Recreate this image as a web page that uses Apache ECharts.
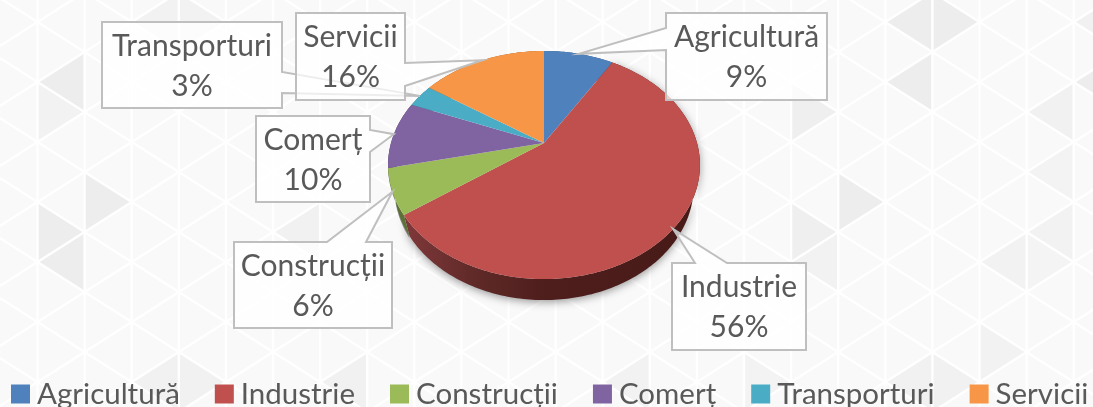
<!DOCTYPE html>
<html><head><meta charset="utf-8">
<style>html,body{margin:0;padding:0;background:#fff;overflow:hidden}#c{width:1093px;height:407px}</style>
<script src="https://cdn.jsdelivr.net/npm/echarts@6/dist/echarts.min.js"></script>
</head><body><div id="c"></div>
<script>
// ---------- data ----------
const categories = ['Agricultură','Industrie','Construcții','Comerț','Transporturi','Servicii'];
const shares = [8.7, 56.4, 6.4, 9.6, 3.3, 15.6];

// ---------- styles & layout ----------
const colors = ['#4f81bd','#c0504d','#9bbb59','#8064a2','#4bacc6','#f79646'];
const wallColors = ['#2f4d71','#4d1c1a','#5d7035','#4c3c61','#2d6776','#94592a'];
const FONT = 'Lato, "Open Sans", sans-serif';
const TEXT = '#595959';
// projected pie: apex, radii, perspective factor, wall depth
const pie = {cx:544, cy:143, A:153, B:109.8, p:0.193, depth:21, wallScale:0.96};
// callout boxes [x,y,w,h] and the edge segment the pointer leaves from
const callouts = [
  {box:[666,13,161,87],  side:'left',  a:28,  b:50},
  {box:[672,263,134,87], side:'top',   a:695, b:727},
  {box:[234,242,158,86], side:'top',   a:327, b:366},
  {box:[256,116,114,86], side:'right', a:130, b:152},
  {box:[102,22,180,86],  side:'right', a:72,  b:93},
  {box:[296,13,109,87],  side:'right', a:63,  b:86}
];
// background lattice
const lattice = {x0:37.5, dx:47.1, y0:22, dy:60};
// shaded triangles: [column of the vertical edge, top y of that edge, direction, grey]
const shaded = [
 [19,-8,-1,'#ededed'],[19,-8,1,'#ededed'],[19,52,-1,'#ededed'],[22,82,-1,'#f1f1f1'],[23,52,-1,'#ededed'],[23,-8,-1,'#f1f1f1'],
 [17,172,1,'#ededed'],[16,82,1,'#efefef'],[22,142,-1,'#f3f3f3'],[21,232,-1,'#f2f2f2'],[22,202,-1,'#f2f2f2'],[21,232,1,'#f4f4f4'],
 [20,322,1,'#f2f2f2'],[19,352,-1,'#f1f1f1'],[19,352,1,'#f1f1f1'],[16,202,1,'#efefef'],[17,232,-1,'#f2f2f2'],
 [0,202,1,'#ededed'],[1,232,-1,'#ededed'],[1,172,1,'#ededed'],[3,352,-1,'#f1f1f1'],[3,352,1,'#f1f1f1'],
 [1,52,-1,'#ededed'],[0,82,1,'#f2f2f2'],[3,-8,-1,'#f2f2f2'],[3,-8,1,'#f2f2f2'],[6,202,-1,'#f1f1f1'],[7,352,-1,'#f1f1f1'],[13,352,-1,'#f2f2f2'],[15,352,1,'#f3f3f3']
];

function bgElements(){
  const els=[{type:'rect',shape:{x:0,y:0,width:1093,height:407},style:{fill:'#f9f9f9'}}];
  const X=k=>lattice.x0+k*lattice.dx;
  shaded.forEach(([k,y,d,g])=>{
    els.push({type:'polygon',shape:{points:[[X(k),y],[X(k),y+lattice.dy],[X(k+d),y+lattice.dy/2]]},style:{fill:g}});
  });
  const line={stroke:'#ffffff',lineWidth:2.4,opacity:0.95};
  for(let k=-1;k<=24;k++){
    els.push({type:'line',shape:{x1:X(k),y1:-10,x2:X(k),y2:420},style:line});
    const off=(k%2===0)?lattice.y0:lattice.y0+lattice.dy/2;
    for(let r=-2;r<=8;r++){
      const y=off+r*lattice.dy;
      els.push({type:'line',shape:{x1:X(k),y1:y,x2:X(k+1),y2:y+lattice.dy/2},style:line});
      els.push({type:'line',shape:{x1:X(k),y1:y,x2:X(k+1),y2:y-lattice.dy/2},style:line});
    }
  }
  return els;
}

const total = shares.reduce((a,b)=>a+b,0);
function project(frac){
  const t=frac*2*Math.PI, u=Math.sin(t), v=Math.cos(t), w=1+pie.p*v;
  return [pie.cx+pie.A*u/w, pie.cy-pie.B*v/w];
}
function arc(f0,f1){
  const n=Math.max(2,Math.ceil((f1-f0)*360)), pts=[];
  for(let i=0;i<=n;i++) pts.push(project(f0+(f1-f0)*i/n));
  return pts;
}
function calloutPoints(c,tip){
  const [x,y,w,h]=c.box, r=x+w, b=y+h;
  if(c.side==='left')  return [[x,y],[r,y],[r,b],[x,b],[x,c.b],tip,[x,c.a]];
  if(c.side==='right') return [[x,y],[r,y],[r,c.a],tip,[r,c.b],[r,b],[x,b]];
  return [[x,y],[c.a,y],tip,[c.b,y],[r,y],[r,b],[x,b]];
}
function sliceRender(i){
  const f0=shares.slice(0,i).reduce((a,b)=>a+b,0)/total;
  const f1=f0+shares[i]/total;
  return function(){
    const top=arc(f0,f1);
    const low=top.map(([x,y])=>[pie.cx+(x-pie.cx)*pie.wallScale,y+pie.depth]);
    const wall=top.concat(low.slice().reverse());
    const wallFill=i===1?{type:'linear',x:403,y:0,x2:690,y2:0,global:true,colorStops:[
      {offset:0,color:'#80383a'},{offset:0.25,color:'#5f2a28'},{offset:0.5,color:'#4e1e1c'},{offset:1,color:'#471a18'}]}:wallColors[i];
    const tip=project((f0+f1)/2);
    const c=callouts[i], pct=Math.round(shares[i]/total*100)+'%';
    return {type:'group',children:[
      {type:'polygon',z2:1,shape:{points:wall},style:{fill:wallFill,shadowBlur:i===1?9:0,shadowColor:'rgba(0,0,0,0.4)',shadowOffsetY:2}},
      {type:'polygon',z2:2,shape:{points:[[pie.cx,pie.cy]].concat(top)},style:{fill:colors[i]}},
      {type:'polygon',z2:10+i,shape:{points:calloutPoints(c,tip)},style:{fill:'rgba(255,255,255,0.72)',stroke:'#bfbfbf',lineWidth:2}},
      {type:'text',z2:20+i,style:{x:c.box[0]+c.box[2]/2,y:c.box[1]+c.box[3]/2+1,text:categories[i]+'\n'+pct,
        align:'center',verticalAlign:'middle',fill:TEXT,font:'30px '+FONT,lineHeight:40}}
    ]};
  };
}

const chart=echarts.init(document.getElementById('c'),null,{renderer:'canvas'});
chart.setOption({
  animation:false,
  graphic:{elements:bgElements()},
  legend:{left:11,top:379,width:1082,padding:0,icon:'rect',itemWidth:19,itemHeight:19,itemGap:35,
    data:categories,
    textStyle:{color:TEXT,fontFamily:FONT,fontSize:29.5,padding:[0,0,0,2]}},
  series:categories.map((name,i)=>({
    type:'custom',name,coordinateSystem:'none',silent:true,
    itemStyle:{color:colors[i]},
    data:[shares[i]],
    renderItem:sliceRender(i)
  }))
});
</script></body></html>
